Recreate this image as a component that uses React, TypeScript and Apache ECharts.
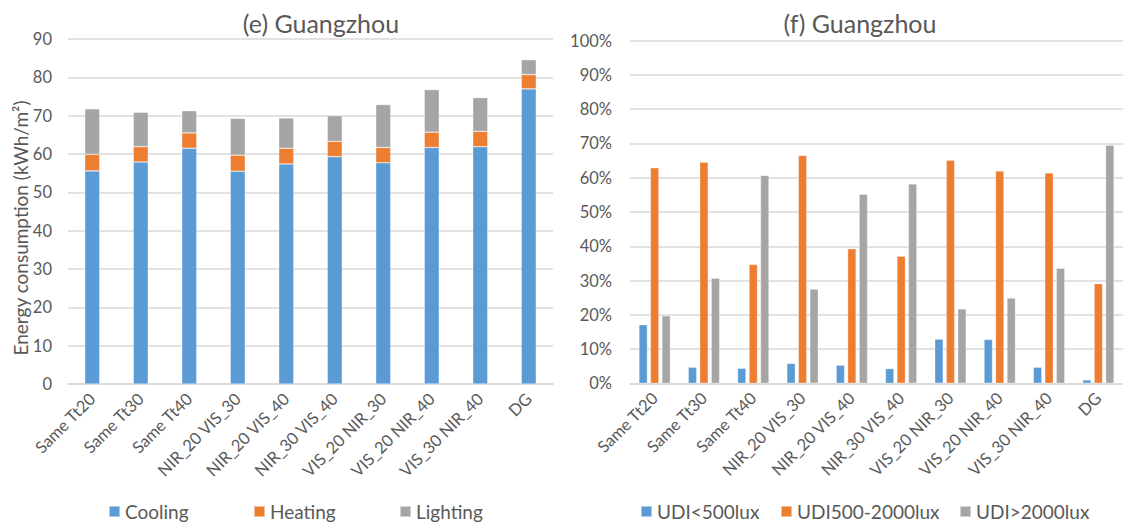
import React, { useEffect, useRef } from "react";
import * as echarts from "echarts";

// Design cases (shared by both panels)
const categories = [
  "Same Tt20",
  "Same Tt30",
  "Same Tt40",
  "NIR_20 VIS_30",
  "NIR_20 VIS_40",
  "NIR_30 VIS_40",
  "VIS_20 NIR_30",
  "VIS_20 NIR_40",
  "VIS_30 NIR_40",
  "DG",
];

// (e) Energy consumption, kWh/m²
const cooling = [55.6, 57.9, 61.5, 55.5, 57.4, 59.3, 57.7, 61.7, 61.9, 77.0];
const heating = [4.3, 4.0, 4.0, 4.2, 4.1, 4.0, 4.0, 4.0, 4.0, 3.7];
const lighting = [11.9, 9.0, 5.8, 9.6, 7.9, 6.7, 11.2, 11.1, 8.8, 3.9];

// (f) Useful daylight illuminance shares
const udiLow = [0.171, 0.047, 0.044, 0.058, 0.053, 0.043, 0.129, 0.128, 0.047, 0.01];
const udiMid = [0.629, 0.645, 0.347, 0.665, 0.393, 0.371, 0.651, 0.62, 0.614, 0.291];
const udiHigh = [0.197, 0.307, 0.607, 0.275, 0.552, 0.582, 0.217, 0.249, 0.336, 0.695];

const energyTicks = { min: 0, max: 90, interval: 10 };
const udiTicks = { min: 0, max: 1, interval: 0.1 };

const BLUE = "#5B9BD5";
const ORANGE = "#ED7D31";
const GRAY = "#A5A5A5";
const TEXT = "#595959";
const GRID = "#D9D9D9";
const FONT = "Lato";

export default function App() {
  const ref = useRef<HTMLDivElement>(null);

  useEffect(() => {
    if (!ref.current) return;
    const chart = echarts.init(ref.current, undefined, { renderer: "svg" });

    const xAxisBase = (gridIndex: number) => ({
      type: "category" as const,
      gridIndex,
      data: categories,
      axisLine: { show: true, lineStyle: { color: GRID, width: 1.5 } },
      axisTick: { show: false },
      axisLabel: {
        rotate: 45,
        interval: 0,
        color: TEXT,
        fontFamily: FONT,
        fontSize: 16.5,
        margin: 12,
      },
    });

    const yAxisBase = (gridIndex: number) => ({
      type: "value" as const,
      gridIndex,
      axisLine: { show: false },
      axisTick: { show: false },
      splitLine: { lineStyle: { color: GRID, width: 1.5 } },
      axisLabel: { color: TEXT, fontFamily: FONT, fontSize: 16.5, margin: 16 },
    });

    const legendItem = (name: string, left: number) => ({
      data: [name],
      left,
      top: 497,
      itemWidth: 11,
      itemHeight: 11,
      icon: "rect",
      itemGap: 0,
      textStyle: { color: TEXT, fontFamily: FONT, fontSize: 19 },
    });

    const stackBar = (name: string, data: number[], color: string) => ({
      name,
      type: "bar" as const,
      xAxisIndex: 0,
      yAxisIndex: 0,
      stack: "energy",
      barWidth: 15,
      data,
      itemStyle: { color, borderColor: "rgba(255,255,255,0.5)", borderWidth: 0.6 },
    });

    const udiBar = (name: string, data: number[], color: string) => ({
      name,
      type: "bar" as const,
      xAxisIndex: 1,
      yAxisIndex: 1,
      barWidth: 8.5,
      barGap: "35%",
      data,
      itemStyle: { color, borderColor: "rgba(255,255,255,0.5)", borderWidth: 0.6 },
    });

    chart.setOption({
      animation: false,
      backgroundColor: "#ffffff",
      title: [
        {
          text: "(e) Guangzhou",
          left: 316,
          top: 5,
          textAlign: "center",
          textStyle: { color: TEXT, fontFamily: FONT, fontSize: 25, fontWeight: "normal" },
        },
        {
          text: "(f) Guangzhou",
          left: 855,
          top: 5,
          textAlign: "center",
          textStyle: { color: TEXT, fontFamily: FONT, fontSize: 25, fontWeight: "normal" },
        },
      ],
      grid: [
        { left: 68, top: 39, width: 485, height: 345 },
        { left: 630, top: 40.7, width: 498, height: 342.6 },
      ],
      xAxis: [xAxisBase(0), xAxisBase(1)],
      yAxis: [
        { ...yAxisBase(0), ...energyTicks },
        {
          ...yAxisBase(1),
          ...udiTicks,
          axisLabel: {
            color: TEXT,
            fontFamily: FONT,
            fontSize: 16.5,
            margin: 18,
            formatter: (v: number) => `${Math.round(v * 100)}%`,
          },
        },
      ],
      legend: [
        legendItem("Cooling", 103),
        legendItem("Heating", 248),
        legendItem("Lighting", 394),
        legendItem("UDI<500lux", 635),
        legendItem("UDI500-2000lux", 775),
        legendItem("UDI>2000lux", 954),
      ],
      graphic: [
        {
          type: "text",
          x: 20,
          y: 228,
          rotation: Math.PI / 2,
          style: {
            text: "Energy consumption (kWh/m²)",
            fill: TEXT,
            font: `19px ${FONT}`,
            align: "center",
            verticalAlign: "middle",
          },
        },
      ],
      series: [
        stackBar("Cooling", cooling, BLUE),
        stackBar("Heating", heating, ORANGE),
        stackBar("Lighting", lighting, GRAY),
        udiBar("UDI<500lux", udiLow, BLUE),
        udiBar("UDI500-2000lux", udiMid, ORANGE),
        udiBar("UDI>2000lux", udiHigh, GRAY),
      ],
    });

    return () => chart.dispose();
  }, []);

  return (
    <div
      ref={ref}
      style={{ position: "fixed", left: 0, top: 0, width: 1123, height: 527, background: "#fff" }}
    />
  );
}
